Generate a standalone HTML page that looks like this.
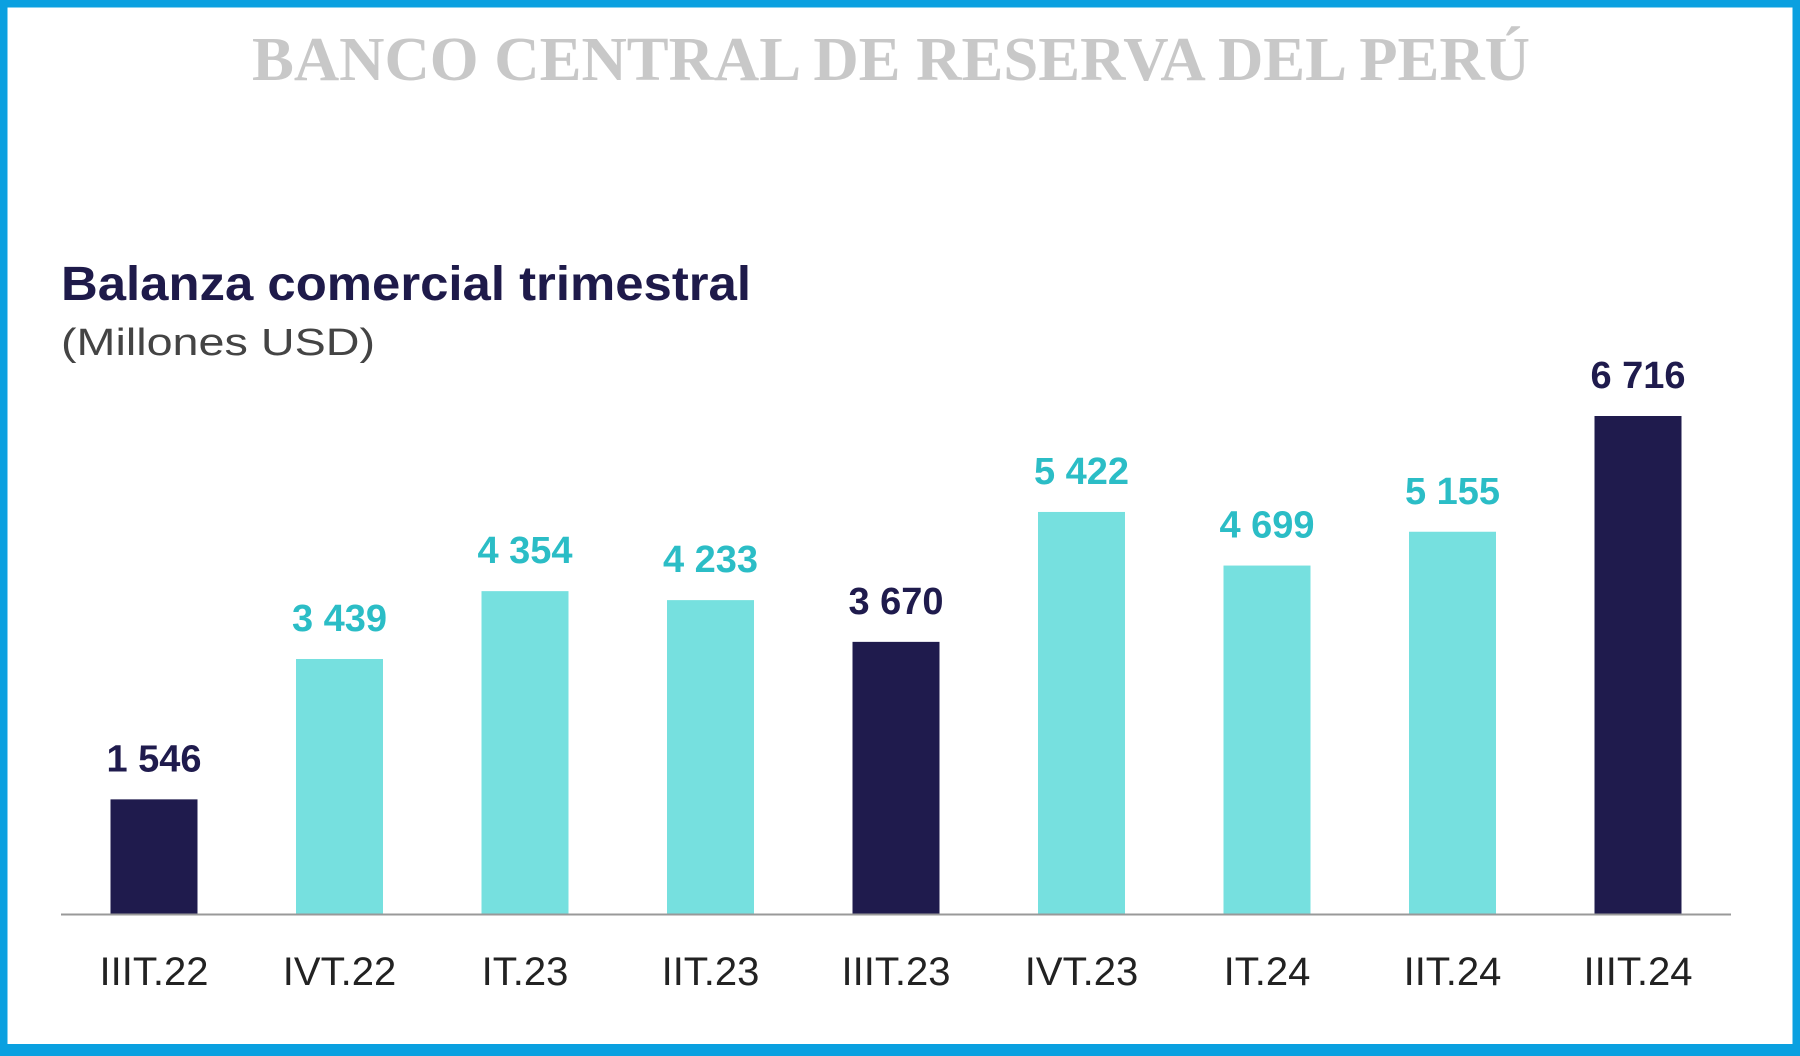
<!DOCTYPE html>
<html><head><meta charset="utf-8"><style>
html,body{margin:0;padding:0;background:#fff}
svg{display:block}
</style></head><body>
<svg width="1800" height="1056" viewBox="0 0 1800 1056">
<rect x="3.5" y="3.5" width="1793" height="1046" fill="#fff" stroke="#0aa0e0" stroke-width="8"/>
<rect x="0" y="1044" width="1800" height="12" fill="#0aa0e0"/>
<text x="891" y="80" text-anchor="middle" font-family="Liberation Serif, serif" font-weight="bold" font-size="62" fill="#c8c8c8" textLength="1278" lengthAdjust="spacingAndGlyphs">BANCO CENTRAL DE RESERVA DEL PERÚ</text>
<text x="61" y="300" font-family="Liberation Sans, sans-serif" font-weight="bold" font-size="48" fill="#1e1a4a" textLength="690" lengthAdjust="spacingAndGlyphs">Balanza comercial trimestral</text>
<text x="61" y="355" font-family="Liberation Sans, sans-serif" font-size="38" fill="#444" textLength="314" lengthAdjust="spacingAndGlyphs">(Millones USD)</text>
<g id="bars"></g>
<line x1="61" y1="914.5" x2="1731" y2="914.5" stroke="#999" stroke-width="2"/>
</svg>
<script>
const categories = ["IIIT.22","IVT.22","IT.23","IIT.23","IIIT.23","IVT.23","IT.24","IIT.24","IIIT.24"];
const values = [1546,3439,4354,4233,3670,5422,4699,5155,6716];
const valueLabels = ["1 546","3 439","4 354","4 233","3 670","5 422","4 699","5 155","6 716"];
const highlighted = [true,false,false,false,true,false,false,false,true];

const NS = "http://www.w3.org/2000/svg";
const g = document.getElementById("bars");
const baseY = 914, pxPerUnit = 498/6716, x0 = 154, step = (1638-154)/8, bw = 87;
function xScale(i){ return x0 + i*step; }
function yScale(v){ return baseY - v*pxPerUnit; }
categories.forEach((c,i)=>{
  const cx = xScale(i), top = yScale(values[i]);
  const r = document.createElementNS(NS,"rect");
  r.setAttribute("x", cx-bw/2); r.setAttribute("y", top);
  r.setAttribute("width", bw); r.setAttribute("height", baseY-top);
  r.setAttribute("fill", highlighted[i] ? "#1f1b4d" : "#76e0df");
  
  
  g.appendChild(r);
  const t = document.createElementNS(NS,"text");
  t.setAttribute("x", cx); t.setAttribute("y", top-28);
  t.setAttribute("text-anchor","middle");
  t.setAttribute("font-family","Liberation Sans, sans-serif");
  t.setAttribute("font-weight","bold"); t.setAttribute("font-size","38");
  t.setAttribute("fill", highlighted[i] ? "#1f1b4d" : "#2bbdc6");
  t.textContent = valueLabels[i];
  
  
  g.appendChild(t);
  const l = document.createElementNS(NS,"text");
  l.setAttribute("x", cx); l.setAttribute("y", 985);
  l.setAttribute("text-anchor","middle");
  l.setAttribute("font-family","Liberation Sans, sans-serif");
  l.setAttribute("font-size","40"); l.setAttribute("fill","#222");
  l.textContent = c;
  
  
  g.appendChild(l);
});
</script>
</body></html>
